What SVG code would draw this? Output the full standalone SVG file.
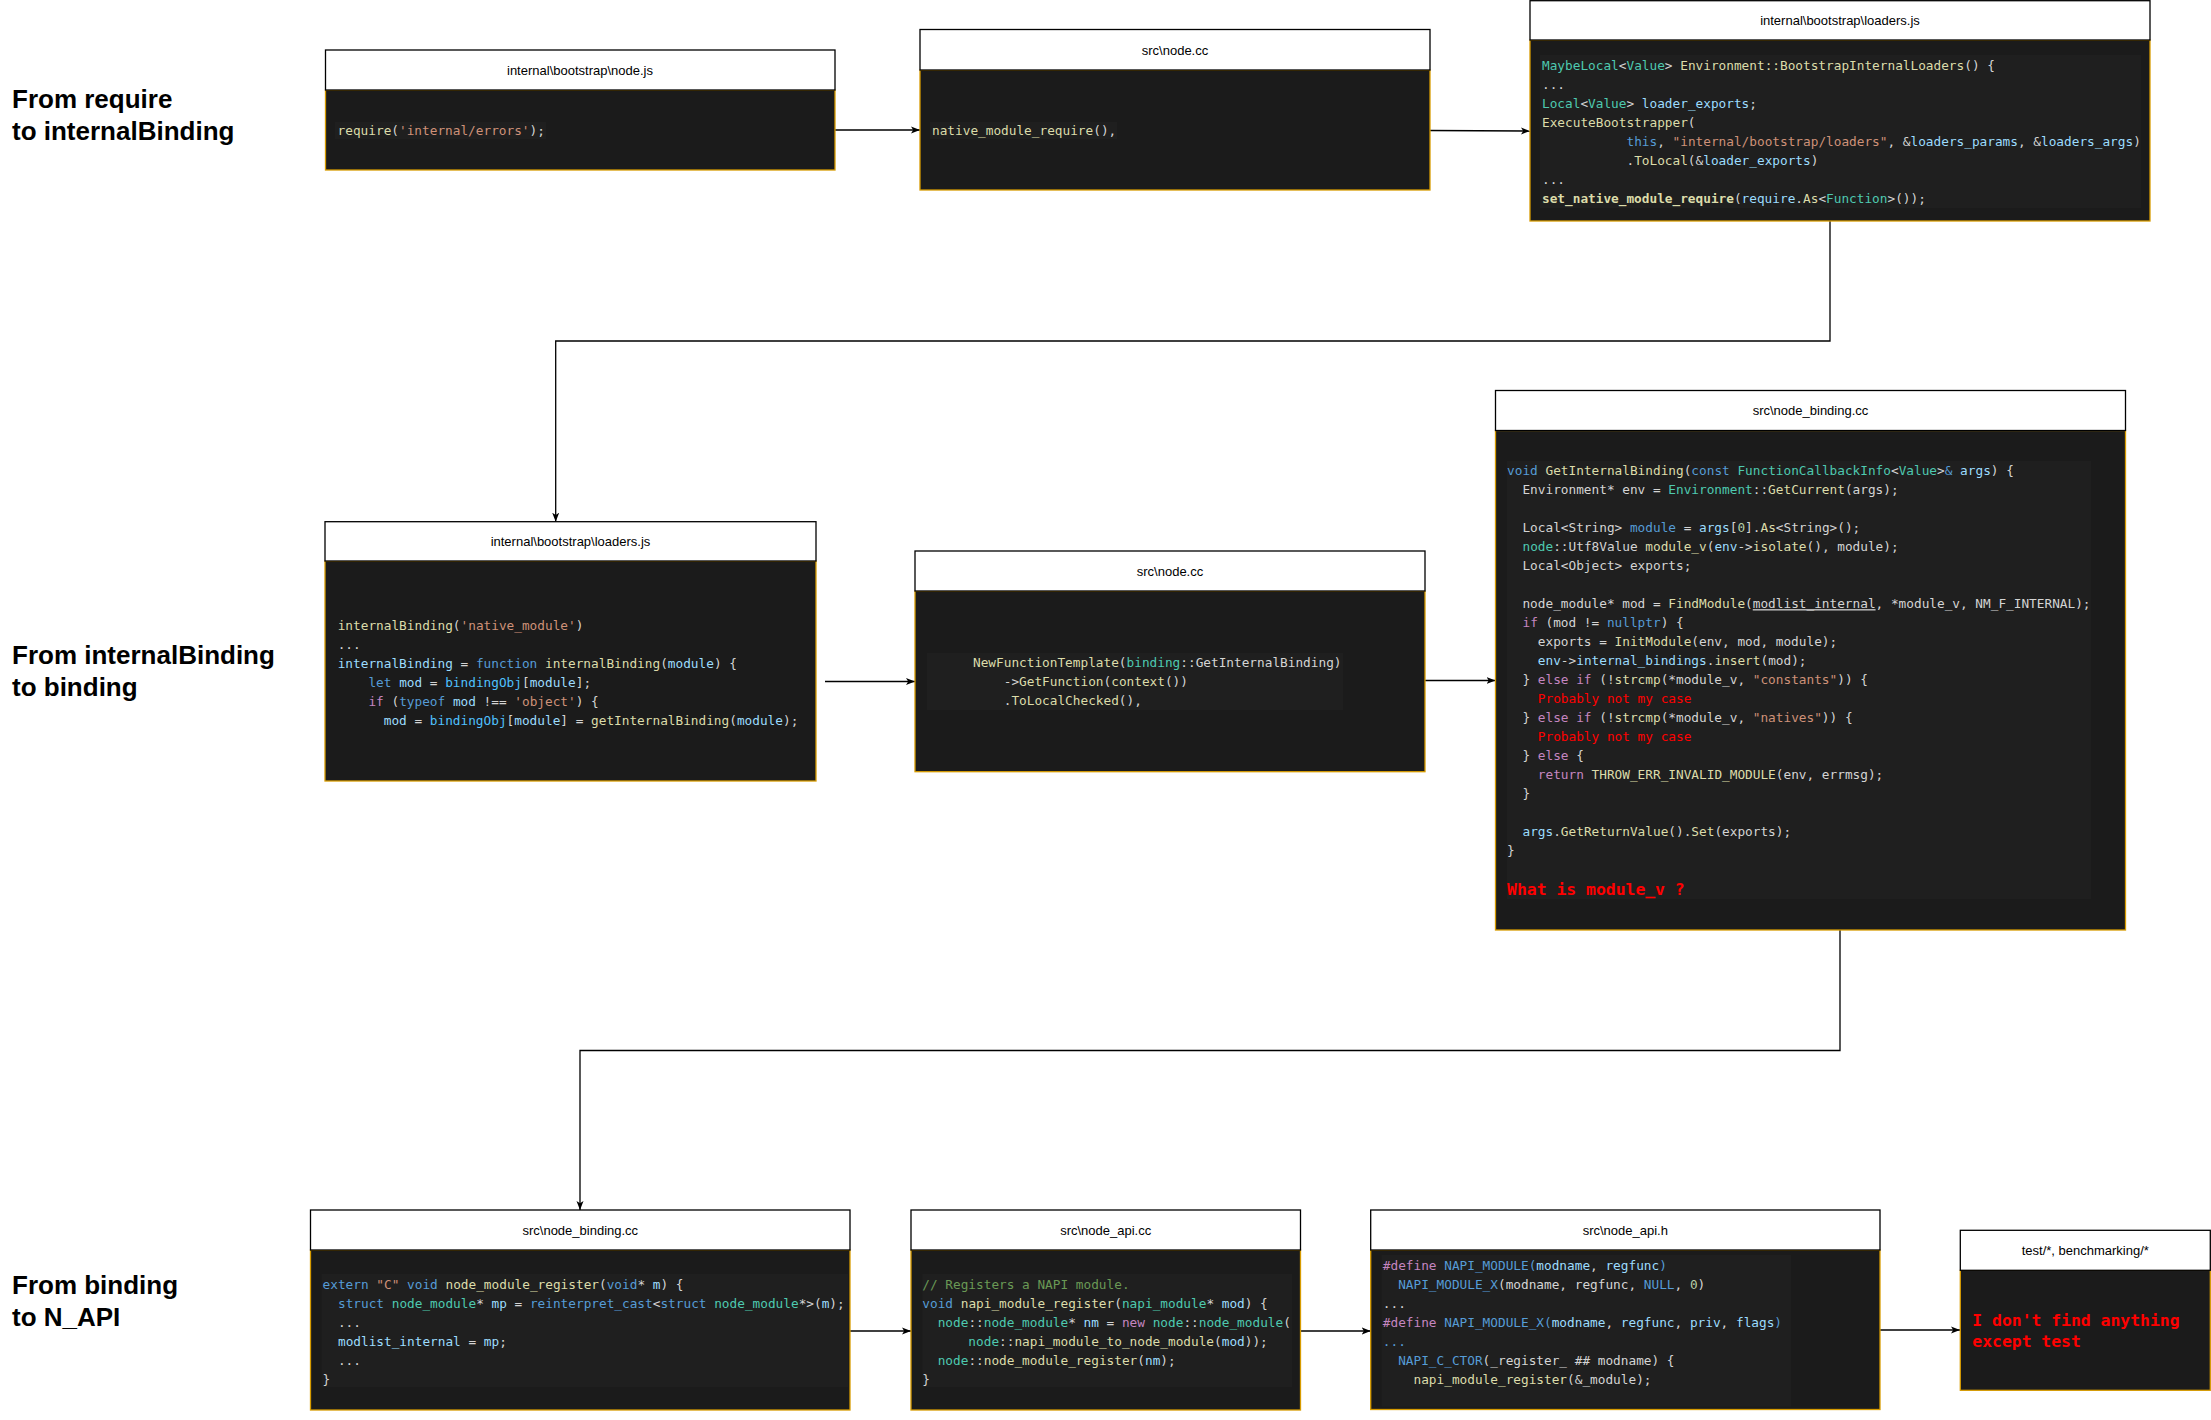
<svg xmlns="http://www.w3.org/2000/svg" width="2211" height="1420" viewBox="0 0 2211 1420">
<style>
.hdr{fill:#fff;stroke:#000;stroke-width:1.3}
.body{fill:#1b1b1b;stroke:#d79b00;stroke-width:1.3}
.cbg{fill:#1f1f1f}
.ttl{font-family:"Liberation Sans",Arial,sans-serif;font-size:13px;fill:#000;text-anchor:middle}
.lbl{font-family:"Liberation Sans",Arial,sans-serif;font-size:26px;font-weight:bold;fill:#000}
.code{font-family:"DejaVu Sans Mono","Liberation Mono",monospace;font-size:12.75px;fill:#d4d4d4;white-space:pre}
.red{font-family:"DejaVu Sans Mono","Liberation Mono",monospace;font-size:16.4px;font-weight:bold;fill:#f00}
.y{fill:#dcdcaa}.t{fill:#4ec9b0}.lb{fill:#9cdcfe}.b{fill:#569cd6}.o{fill:#ce9178}.p{fill:#c586c0}.g{fill:#6a9955}.n{fill:#b5cea8}.bb{fill:#4fc1ff}.r{fill:#f00}
.conn{fill:none;stroke:#000;stroke-width:1.3}
</style>
<defs>
<marker id="arr" markerWidth="10" markerHeight="8" refX="9" refY="4" orient="auto" markerUnits="userSpaceOnUse"><path d="M0,0.5 L9,4 L0,7.5 L2.2,4 Z" fill="#000"/></marker>
</defs>

<g id="labels">
<text class="lbl" x="12" y="108">From require</text>
<text class="lbl" x="12" y="140">to internalBinding</text>
<text class="lbl" x="12" y="664">From internalBinding</text>
<text class="lbl" x="12" y="696">to binding</text>
<text class="lbl" x="12" y="1294">From binding</text>
<text class="lbl" x="12" y="1326">to N_API</text>
</g>

<g id="connectors">
<path class="conn" d="M835,130 L920,130" marker-end="url(#arr)"/>
<path class="conn" d="M1430,130.5 L1530,131" marker-end="url(#arr)"/>
<path class="conn" d="M1830,221 L1830,341 L555.7,341 L555.7,521.7" marker-end="url(#arr)"/>
<path class="conn" d="M825,681.5 L915,681.5" marker-end="url(#arr)"/>
<path class="conn" d="M1425,680.5 L1495.5,680.5" marker-end="url(#arr)"/>
<path class="conn" d="M1840,930 L1840,1050.5 L580,1050.5 L580,1210" marker-end="url(#arr)"/>
<path class="conn" d="M850,1331 L911,1331" marker-end="url(#arr)"/>
<path class="conn" d="M1300.5,1331 L1370.7,1331" marker-end="url(#arr)"/>
<path class="conn" d="M1880,1330 L1960,1330" marker-end="url(#arr)"/>
</g>

<g id="node-bootstrap-node-js">
<rect class="body" x="325.5" y="90" width="509.5" height="80"/>
<rect class="hdr" x="325.5" y="50" width="509.5" height="40"/>
<text class="ttl" x="580" y="74.5">internal\bootstrap\node.js</text>
<rect class="cbg" x="335" y="121.7" width="211" height="17.6"/>
<text class="code" xml:space="preserve" x="337.6" y="134.5"><tspan class="y">require</tspan>(<tspan class="o">'internal/errors'</tspan>);</text>
</g>

<g id="node-src-node-cc-1">
<rect class="body" x="920" y="70" width="510" height="120"/>
<rect class="hdr" x="920" y="29.5" width="510" height="40.5"/>
<text class="ttl" x="1175" y="54.5">src\node.cc</text>
<rect class="cbg" x="930" y="121.7" width="187" height="17.6"/>
<text class="code" xml:space="preserve" x="932" y="134.5"><tspan class="y">native_module_require</tspan>(),</text>
</g>

<g id="node-loaders-js-1">
<rect class="body" x="1530" y="40" width="620" height="181"/>
<rect class="hdr" x="1530" y="0.7" width="620" height="39.3"/>
<text class="ttl" x="1840" y="24.5">internal\bootstrap\loaders.js</text>
<rect class="cbg" x="1540" y="55" width="601" height="153"/>
<text class="code" xml:space="preserve" x="1542" y="70.2"><tspan class="t">MaybeLocal</tspan>&lt;<tspan class="t">Value</tspan>&gt; <tspan class="y">Environment::BootstrapInternalLoaders</tspan>() {</text>
<text class="code" xml:space="preserve" x="1542" y="89.2">...</text>
<text class="code" xml:space="preserve" x="1542" y="108.2"><tspan class="t">Local</tspan>&lt;<tspan class="t">Value</tspan>&gt; <tspan class="lb">loader_exports</tspan>;</text>
<text class="code" xml:space="preserve" x="1542" y="127.2"><tspan class="y">ExecuteBootstrapper</tspan>(</text>
<text class="code" xml:space="preserve" x="1542" y="146.2">           <tspan class="b">this</tspan>, <tspan class="o">"internal/bootstrap/loaders"</tspan>, &amp;<tspan class="lb">loaders_params</tspan>, &amp;<tspan class="lb">loaders_args</tspan>)</text>
<text class="code" xml:space="preserve" x="1542" y="165.2">           .<tspan class="y">ToLocal</tspan>(&amp;<tspan class="lb">loader_exports</tspan>)</text>
<text class="code" xml:space="preserve" x="1542" y="184.2">...</text>
<text class="code" xml:space="preserve" x="1542" y="203.2"><tspan class="y" font-weight="bold">set_native_module_require</tspan>(<tspan class="lb">require</tspan>.<tspan class="y">As</tspan>&lt;<tspan class="t">Function</tspan>&gt;());</text>
</g>

<g id="node-loaders-js-2">
<rect class="body" x="325" y="561" width="491" height="220"/>
<rect class="hdr" x="325" y="521.7" width="491" height="39.3"/>
<text class="ttl" x="570.5" y="545.5">internal\bootstrap\loaders.js</text>
<text class="code" xml:space="preserve" x="337.7" y="629.5"><tspan class="y">internalBinding</tspan>(<tspan class="o">'native_module'</tspan>)</text>
<text class="code" xml:space="preserve" x="337.7" y="648.5">...</text>
<text class="code" xml:space="preserve" x="337.7" y="667.5"><tspan class="lb">internalBinding</tspan> = <tspan class="b">function</tspan> <tspan class="y">internalBinding</tspan>(<tspan class="lb">module</tspan>) {</text>
<text class="code" xml:space="preserve" x="337.7" y="686.5">    <tspan class="b">let</tspan> <tspan class="lb">mod</tspan> = <tspan class="bb">bindingObj</tspan>[<tspan class="lb">module</tspan>];</text>
<text class="code" xml:space="preserve" x="337.7" y="705.5">    <tspan class="p">if</tspan> (<tspan class="b">typeof</tspan> <tspan class="lb">mod</tspan> !== <tspan class="o">'object'</tspan>) {</text>
<text class="code" xml:space="preserve" x="337.7" y="724.5">      <tspan class="lb">mod</tspan> = <tspan class="bb">bindingObj</tspan>[<tspan class="lb">module</tspan>] = <tspan class="y">getInternalBinding</tspan>(<tspan class="lb">module</tspan>);</text>
</g>

<g id="node-src-node-cc-2">
<rect class="body" x="915" y="591" width="510" height="180.7"/>
<rect class="hdr" x="915" y="551" width="510" height="40"/>
<text class="ttl" x="1170" y="575.5">src\node.cc</text>
<rect class="cbg" x="927" y="652.7" width="416" height="57.3"/>
<text class="code" xml:space="preserve" x="973" y="667.2"><tspan class="y">NewFunctionTemplate</tspan>(<tspan class="t">binding</tspan>::GetInternalBinding)</text>
<text class="code" xml:space="preserve" x="973" y="686.2">    -&gt;<tspan class="y">GetFunction</tspan>(<tspan class="y">context</tspan>())</text>
<text class="code" xml:space="preserve" x="973" y="705.2">    .<tspan class="y">ToLocalChecked</tspan>(),</text>
</g>

<g id="node-node-binding-cc-1">
<rect class="body" x="1495.5" y="430.5" width="630" height="499.5"/>
<rect class="hdr" x="1495.5" y="390.5" width="630" height="40"/>
<text class="ttl" x="1810.5" y="414.5">src\node_binding.cc</text>
<rect class="cbg" x="1507" y="461" width="584" height="438.3"/>
<text class="code" xml:space="preserve" x="1507.1" y="475.2"><tspan class="b">void</tspan> <tspan class="y">GetInternalBinding</tspan>(<tspan class="b">const</tspan> <tspan class="t">FunctionCallbackInfo</tspan>&lt;<tspan class="t">Value</tspan>&gt;<tspan class="b">&amp;</tspan> <tspan class="lb">args</tspan>) {</text>
<text class="code" xml:space="preserve" x="1507.1" y="494.2">  Environment* env = <tspan class="t">Environment</tspan>::<tspan class="y">GetCurrent</tspan>(args);</text>
<text class="code" xml:space="preserve" x="1507.1" y="532.2">  Local&lt;String&gt; <tspan class="b">module</tspan> = <tspan class="lb">args</tspan>[<tspan class="n">0</tspan>].<tspan class="y">As</tspan>&lt;String&gt;();</text>
<text class="code" xml:space="preserve" x="1507.1" y="551.2">  <tspan class="t">node</tspan>::Utf8Value <tspan class="y">module_v</tspan>(<tspan class="lb">env</tspan>-&gt;<tspan class="y">isolate</tspan>(), module);</text>
<text class="code" xml:space="preserve" x="1507.1" y="570.2">  Local&lt;Object&gt; exports;</text>
<text class="code" xml:space="preserve" x="1507.1" y="608.2">  node_module* mod = <tspan class="y">FindModule</tspan>(<tspan text-decoration="underline">modlist_internal</tspan>, *module_v, NM_F_INTERNAL);</text>
<text class="code" xml:space="preserve" x="1507.1" y="627.2">  <tspan class="p">if</tspan> (mod != <tspan class="b">nullptr</tspan>) {</text>
<text class="code" xml:space="preserve" x="1507.1" y="646.2">    exports = <tspan class="y">InitModule</tspan>(env, mod, module);</text>
<text class="code" xml:space="preserve" x="1507.1" y="665.2">    <tspan class="lb">env</tspan>-&gt;<tspan class="lb">internal_bindings</tspan>.<tspan class="y">insert</tspan>(mod);</text>
<text class="code" xml:space="preserve" x="1507.1" y="684.2">  } <tspan class="p">else if</tspan> (!<tspan class="y">strcmp</tspan>(*module_v, <tspan class="o">"constants"</tspan>)) {</text>
<text class="code" xml:space="preserve" x="1507.1" y="703.2">    <tspan class="r">Probably not my case</tspan></text>
<text class="code" xml:space="preserve" x="1507.1" y="722.2">  } <tspan class="p">else if</tspan> (!<tspan class="y">strcmp</tspan>(*module_v, <tspan class="o">"natives"</tspan>)) {</text>
<text class="code" xml:space="preserve" x="1507.1" y="741.2">    <tspan class="r">Probably not my case</tspan></text>
<text class="code" xml:space="preserve" x="1507.1" y="760.2">  } <tspan class="p">else</tspan> {</text>
<text class="code" xml:space="preserve" x="1507.1" y="779.2">    <tspan class="p">return</tspan> <tspan class="y">THROW_ERR_INVALID_MODULE</tspan>(env, errmsg);</text>
<text class="code" xml:space="preserve" x="1507.1" y="798.2">  }</text>
<text class="code" xml:space="preserve" x="1507.1" y="836.2">  <tspan class="lb">args</tspan>.<tspan class="y">GetReturnValue</tspan>().<tspan class="y">Set</tspan>(exports);</text>
<text class="code" xml:space="preserve" x="1507.1" y="855.2">}</text>
<text class="red" x="1507.1" y="895">What is module_v ?</text>
</g>

<g id="node-node-binding-cc-2">
<rect class="body" x="310.5" y="1250" width="539.5" height="160"/>
<rect class="hdr" x="310.5" y="1210" width="539.5" height="40"/>
<text class="ttl" x="580.3" y="1234.5">src\node_binding.cc</text>
<rect class="cbg" x="321.5" y="1274" width="526.5" height="113"/>
<text class="code" xml:space="preserve" x="322.6" y="1288.5"><tspan class="b">extern</tspan> <tspan class="o">"C"</tspan> <tspan class="b">void</tspan> <tspan class="y">node_module_register</tspan>(<tspan class="b">void</tspan>* <tspan class="lb">m</tspan>) {</text>
<text class="code" xml:space="preserve" x="322.6" y="1307.5">  <tspan class="b">struct</tspan> <tspan class="t">node_module</tspan>* <tspan class="lb">mp</tspan> = <tspan class="b">reinterpret_cast</tspan>&lt;<tspan class="b">struct</tspan> <tspan class="t">node_module</tspan>*&gt;(<tspan class="lb">m</tspan>);</text>
<text class="code" xml:space="preserve" x="322.6" y="1326.5">  ...</text>
<text class="code" xml:space="preserve" x="322.6" y="1345.5">  <tspan class="lb">modlist_internal</tspan> = <tspan class="lb">mp</tspan>;</text>
<text class="code" xml:space="preserve" x="322.6" y="1364.5">  ...</text>
<text class="code" xml:space="preserve" x="322.6" y="1383.5">}</text>
</g>

<g id="node-node-api-cc">
<rect class="body" x="911" y="1250" width="389.5" height="160"/>
<rect class="hdr" x="911" y="1210" width="389.5" height="40"/>
<text class="ttl" x="1105.7" y="1234.5">src\node_api.cc</text>
<rect class="cbg" x="922.3" y="1274" width="369.7" height="113"/>
<text class="code" xml:space="preserve" x="922.3" y="1288.5"><tspan class="g">// Registers a NAPI module.</tspan></text>
<text class="code" xml:space="preserve" x="922.3" y="1307.5"><tspan class="b">void</tspan> <tspan class="y">napi_module_register</tspan>(<tspan class="t">napi_module</tspan>* <tspan class="lb">mod</tspan>) {</text>
<text class="code" xml:space="preserve" x="922.3" y="1326.5">  <tspan class="t">node</tspan>::<tspan class="t">node_module</tspan>* <tspan class="lb">nm</tspan> = <tspan class="p">new</tspan> <tspan class="t">node</tspan>::<tspan class="t">node_module</tspan>(</text>
<text class="code" xml:space="preserve" x="922.3" y="1345.5">      <tspan class="t">node</tspan>::<tspan class="y">napi_module_to_node_module</tspan>(<tspan class="lb">mod</tspan>));</text>
<text class="code" xml:space="preserve" x="922.3" y="1364.5">  <tspan class="t">node</tspan>::<tspan class="y">node_module_register</tspan>(<tspan class="lb">nm</tspan>);</text>
<text class="code" xml:space="preserve" x="922.3" y="1383.5">}</text>
</g>

<g id="node-node-api-h">
<rect class="body" x="1370.7" y="1250" width="509.3" height="159.5"/>
<rect class="hdr" x="1370.7" y="1210" width="509.3" height="40"/>
<text class="ttl" x="1625.3" y="1234.5">src\node_api.h</text>
<rect class="cbg" x="1381.5" y="1255" width="409.5" height="151.7"/>
<text class="code" xml:space="preserve" x="1382.8" y="1269.5"><tspan class="p">#define</tspan> <tspan class="b">NAPI_MODULE(</tspan><tspan class="lb">modname</tspan>, <tspan class="lb">regfunc</tspan><tspan class="b">)</tspan></text>
<text class="code" xml:space="preserve" x="1382.8" y="1288.5">  <tspan class="b">NAPI_MODULE_X</tspan>(modname, regfunc, <tspan class="b">NULL</tspan>, <tspan class="n">0</tspan>)</text>
<text class="code" xml:space="preserve" x="1382.8" y="1307.5">...</text>
<text class="code" xml:space="preserve" x="1382.8" y="1326.5"><tspan class="p">#define</tspan> <tspan class="b">NAPI_MODULE_X(</tspan><tspan class="lb">modname</tspan>, <tspan class="lb">regfunc</tspan>, <tspan class="lb">priv</tspan>, <tspan class="lb">flags</tspan><tspan class="b">)</tspan></text>
<text class="code" xml:space="preserve" x="1382.8" y="1345.5"><tspan class="b">...</tspan></text>
<text class="code" xml:space="preserve" x="1382.8" y="1364.5">  <tspan class="b">NAPI_C_CTOR</tspan>(_register_ ## modname) {</text>
<text class="code" xml:space="preserve" x="1382.8" y="1383.5">    <tspan class="y">napi_module_register</tspan>(&amp;_module);</text>
</g>

<g id="node-test">
<rect class="body" x="1960.3" y="1270.3" width="250" height="120"/>
<rect class="hdr" x="1960.3" y="1230.3" width="250" height="40"/>
<text class="ttl" x="2085.3" y="1254.5">test/*, benchmarking/*</text>
<text class="red" x="1972.3" y="1326">I don't find anything</text>
<text class="red" x="1972.3" y="1347">except test</text>
</g>
</svg>
